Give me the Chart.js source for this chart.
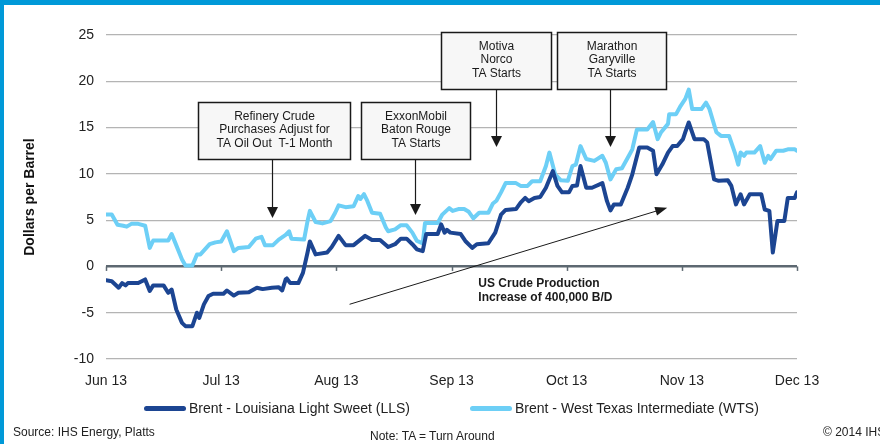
<!DOCTYPE html>
<html>
<head>
<meta charset="utf-8">
<script src="https://cdn.jsdelivr.net/npm/chart.js@4.4.1/dist/chart.umd.min.js"></script>
<style>
  body { margin: 0; background: #fff; font-family: Arial, "Liberation Sans", sans-serif; }
  #wrap { position: relative; width: 880px; height: 444px; overflow: hidden; }
  #chart { position: absolute; left: 0; top: 0; }
  .frame { position: absolute; background: #0099d8; z-index: 2; }
  .foot { position: absolute; font-size: 12px; color: #222; white-space: nowrap; line-height: 14px; }
  #legend { position: absolute; top: 400px; display: flex; align-items: center; font-size: 14px; color: #222; white-space: nowrap; }
  #legend .item { display: flex; align-items: center; }
  #legend .swatch { width: 42px; height: 5px; border-radius: 3px; margin-right: 3px; }
</style>
</head>
<body>
<div id="wrap">
  <canvas id="chart" width="880" height="444"></canvas>
  <div class="frame" style="left:0;top:0;width:880px;height:5px"></div>
  <div class="frame" style="left:0;top:0;width:4px;height:444px"></div>
  <div id="legend"></div>
  <div class="foot" style="left:13px;top:425px">Source: IHS Energy, Platts</div>
  <div class="foot" style="left:370px;top:429px">Note: TA = Turn Around</div>
  <div class="foot" style="left:823px;top:425px">© 2014 IHS</div>
</div>
<script>
// month ticks (x = months since 1 Jun 2013)
const months = ['Jun 13', 'Jul 13', 'Aug 13', 'Sep 13', 'Oct 13', 'Nov 13', 'Dec 13'];

// Brent - LLS
const llsX = [0, .05, .11, .14, .17, .19, .28, .34, .38, .41,
  .50, .54, .57, .61, .66, .69, .75, .79, .81, .85,
  .89, .93, 1.02, 1.05, 1.11, 1.15, 1.24, 1.31, 1.36, 1.44,
  1.50, 1.53, 1.56, 1.57, 1.60, 1.67, 1.71, 1.75, 1.77, 1.82,
  1.92, 1.96, 2.02, 2.08, 2.15, 2.25, 2.31, 2.38, 2.45, 2.51,
  2.56, 2.61, 2.66, 2.70, 2.75, 2.78, 2.88, 2.91, 2.94, 2.96,
  2.99, 3.08, 3.12, 3.18, 3.22, 3.32, 3.38, 3.43, 3.47, 3.56,
  3.60, 3.64, 3.67, 3.72, 3.77, 3.82, 3.88, 3.92, 3.96, 4.02,
  4.05, 4.09, 4.12, 4.17, 4.22, 4.31, 4.35, 4.38, 4.41, 4.47,
  4.53, 4.57, 4.63, 4.70, 4.75, 4.78, 4.83, 4.88, 4.92, 4.96,
  5.01, 5.03, 5.06, 5.11, 5.19, 5.22, 5.28, 5.32, 5.40, 5.43,
  5.47, 5.51, 5.54, 5.59, 5.69, 5.72, 5.76, 5.79, 5.83, 5.89,
  5.92, 5.98, 6.0];
const llsY = [-1.5, -1.6, -2.3, -1.8, -2.05, -1.8, -1.8, -1.4, -2.65, -2.05,
  -2.05, -2.85, -2.5, -4.65, -6.1, -6.45, -6.45, -5.0, -5.55, -4.1,
  -3.2, -2.95, -2.95, -2.6, -3.15, -2.85, -2.8, -2.3, -2.45, -2.3,
  -2.25, -2.6, -1.4, -1.3, -1.8, -1.8, -0.7, 1.5, 2.7, 1.3,
  1.5, 2.1, 3.3, 2.3, 2.3, 3.3, 2.85, 2.85, 2.1, 2.4,
  3.0, 3.0, 2.4, 1.85, 1.65, 3.5, 3.5, 4.55, 3.65, 3.95,
  3.65, 3.5, 2.75, 2.0, 2.4, 2.5, 3.65, 5.6, 6.1, 6.2,
  6.9, 7.4, 7.05, 7.4, 7.5, 8.5, 10.3, 8.7, 8.0, 8.0,
  8.7, 8.75, 10.85, 8.5, 8.5, 9.0, 7.05, 6.05, 6.7, 6.7,
  8.5, 9.95, 12.85, 12.85, 12.5, 9.95, 11.0, 12.3, 13.0, 13.0,
  13.75, 14.5, 15.55, 13.75, 13.75, 13.4, 9.4, 9.25, 9.3, 8.7,
  6.7, 7.8, 6.7, 7.8, 7.8, 6.15, 6.0, 1.5, 4.9, 4.9,
  7.4, 7.4, 8.0];

// Brent - WTS
const wtsX = [0, .05, .10, .15, .18, .22, .28, .34, .38, .41,
  .54, .57, .60, .66, .69, .75, .79, .82, .90, .95,
  1.00, 1.05, 1.11, 1.15, 1.24, 1.30, 1.35, 1.38, 1.45, 1.50,
  1.56, 1.59, 1.61, 1.72, 1.75, 1.77, 1.82, 1.88, 1.95, 1.99,
  2.02, 2.08, 2.15, 2.19, 2.21, 2.24, 2.27, 2.31, 2.38, 2.43,
  2.45, 2.51, 2.56, 2.61, 2.66, 2.70, 2.75, 2.77, 2.88, 2.92,
  2.98, 3.01, 3.06, 3.11, 3.15, 3.19, 3.24, 3.32, 3.36, 3.39,
  3.43, 3.47, 3.56, 3.60, 3.66, 3.70, 3.77, 3.82, 3.85, 3.90,
  3.95, 4.01, 4.05, 4.08, 4.12, 4.17, 4.24, 4.31, 4.34, 4.38,
  4.43, 4.48, 4.54, 4.57, 4.61, 4.70, 4.75, 4.79, 4.82, 4.88,
  4.89, 4.95, 4.99, 5.03, 5.06, 5.09, 5.17, 5.21, 5.24, 5.30,
  5.34, 5.41, 5.46, 5.49, 5.51, 5.54, 5.56, 5.63, 5.68, 5.72,
  5.75, 5.77, 5.82, 5.88, 5.92, 5.98, 6.0];
const wtsY = [5.6, 5.6, 4.5, 4.4, 4.3, 4.6, 4.6, 4.4, 2.0, 2.8,
  2.8, 3.5, 2.6, 0.76, 0.1, 0.1, 1.3, 1.3, 2.4, 2.6,
  2.7, 3.8, 1.65, 2.0, 2.1, 3.0, 3.2, 2.3, 2.3, 2.9,
  3.4, 3.8, 3.0, 2.9, 4.9, 6.0, 4.8, 4.65, 4.9, 5.8,
  6.6, 6.4, 6.5, 7.6, 7.3, 7.8, 7.05, 5.8, 5.7, 4.2,
  3.8, 4.0, 4.45, 4.45, 3.65, 2.75, 2.5, 4.7, 4.7, 5.6,
  6.3, 6.0, 6.2, 6.2, 5.9, 5.2, 5.8, 5.8, 6.8, 7.1,
  8.0, 9.0, 9.0, 8.7, 8.7, 9.2, 9.2, 10.85, 12.3, 9.95,
  9.3, 9.25, 10.85, 11.0, 13.0, 11.6, 11.4, 11.95, 11.2, 9.4,
  10.5, 10.6, 11.95, 12.65, 14.8, 14.8, 15.6, 13.75, 14.5, 15.4,
  16.45, 16.45, 17.35, 18.1, 19.1, 17.0, 17.0, 17.7, 17.0, 14.5,
  14.1, 14.1, 12.3, 11.0, 12.3, 11.95, 12.3, 12.3, 13.0, 11.2,
  11.95, 11.6, 12.5, 12.5, 12.65, 12.65, 12.5];

// callout boxes, in axis units
const callouts = [
  { lines: ['Refinery Crude', 'Purchases Adjust for', 'TA Oil Out  T-1 Month'], x0: 0.80, x1: 2.115, top: 17.76, bot: 11.6, ax: 1.445, tip: 5.23 },
  { lines: ['ExxonMobil', 'Baton Rouge', 'TA Starts'], x0: 2.216, x1: 3.163, top: 17.76, bot: 11.6, ax: 2.687, tip: 5.55 },
  { lines: ['Motiva', 'Norco', 'TA Starts'], x0: 2.91, x1: 3.863, top: 25.32, bot: 19.16, ax: 3.39, tip: 12.9 },
  { lines: ['Marathon', 'Garyville', 'TA Starts'], x0: 3.915, x1: 4.865, top: 25.32, bot: 19.16, ax: 4.377, tip: 12.9 }
];
const prodArrow = { from: [2.115, -4.09], to: [4.873, 6.34], textX: 3.233, textY: [-1.9, -3.4],
  lines: ['US Crude Production', 'Increase of 400,000 B/D'] };

const toPts = (xs, ys) => xs.map((x, i) => ({ x: x, y: ys[i] }));

const zeroAxis = {
  id: 'zeroAxis',
  beforeDatasetsDraw(chart) {
    const { ctx, scales: { x, y } } = chart;
    const y0 = y.getPixelForValue(0);
    ctx.save();
    ctx.strokeStyle = '#5d6871';
    ctx.lineWidth = 1.5;
    months.forEach((m, i) => {
      const px = Math.round(x.getPixelForValue(i)) + 0.5;
      ctx.beginPath();
      ctx.moveTo(px, y0);
      ctx.lineTo(px, y0 + 4.5);
      ctx.stroke();
    });
    ctx.restore();
  }
};

function arrowHead(ctx, x, y, ang, len, half) {
  ctx.beginPath();
  ctx.moveTo(x, y);
  ctx.lineTo(x - len * Math.cos(ang) + half * Math.sin(ang), y - len * Math.sin(ang) - half * Math.cos(ang));
  ctx.lineTo(x - len * Math.cos(ang) - half * Math.sin(ang), y - len * Math.sin(ang) + half * Math.cos(ang));
  ctx.closePath();
  ctx.fill();
}

const notes = {
  id: 'notes',
  afterDatasetsDraw(chart) {
    const { ctx, scales: { x, y } } = chart;
    ctx.save();
    ctx.textAlign = 'center';
    ctx.textBaseline = 'middle';
    ctx.font = '12px Arial, "Liberation Sans", sans-serif';
    callouts.forEach(c => {
      const l = Math.round(x.getPixelForValue(c.x0)) + 0.5, r = Math.round(x.getPixelForValue(c.x1)) + 0.5;
      const t = Math.round(y.getPixelForValue(c.top)) + 0.5, b = Math.round(y.getPixelForValue(c.bot)) + 0.5;
      ctx.fillStyle = '#f7f7f7';
      ctx.fillRect(l, t, r - l, b - t);
      ctx.strokeStyle = '#1a1a1a';
      ctx.lineWidth = 1.5;
      ctx.strokeRect(l, t, r - l, b - t);
      ctx.fillStyle = '#1a1a1a';
      c.lines.forEach((s, i) => ctx.fillText(s, (l + r) / 2, t + 14 + i * 13.5));
      const ax = Math.round(x.getPixelForValue(c.ax)) + 0.5;
      const tip = y.getPixelForValue(c.tip);
      ctx.lineWidth = 1.2;
      ctx.beginPath();
      ctx.moveTo(ax, b);
      ctx.lineTo(ax, tip - 9);
      ctx.stroke();
      arrowHead(ctx, ax, tip, Math.PI / 2, 11, 5.5);
    });
    // production trend arrow
    const x0 = x.getPixelForValue(prodArrow.from[0]), y0 = y.getPixelForValue(prodArrow.from[1]);
    const x1 = x.getPixelForValue(prodArrow.to[0]), y1 = y.getPixelForValue(prodArrow.to[1]);
    const ang = Math.atan2(y1 - y0, x1 - x0);
    ctx.lineWidth = 1;
    ctx.beginPath();
    ctx.moveTo(x0, y0);
    ctx.lineTo(x1 - 10 * Math.cos(ang), y1 - 10 * Math.sin(ang));
    ctx.stroke();
    arrowHead(ctx, x1, y1, ang, 12, 4.5);
    ctx.font = 'bold 12px Arial, "Liberation Sans", sans-serif';
    ctx.textAlign = 'left';
    prodArrow.lines.forEach((s, i) => ctx.fillText(s, x.getPixelForValue(prodArrow.textX), y.getPixelForValue(prodArrow.textY[i])));
    ctx.restore();
  }
};

const chart = new Chart(document.getElementById('chart'), {
  type: 'line',
  data: {
    datasets: [
      { label: 'Brent - Louisiana Light Sweet (LLS)', data: toPts(llsX, llsY), borderColor: '#1c4592', backgroundColor: '#1c4592' },
      { label: 'Brent - West Texas Intermediate (WTS)', data: toPts(wtsX, wtsY), borderColor: '#6dcff6', backgroundColor: '#6dcff6' }
    ]
  },
  options: {
    responsive: false,
    animation: false,
    parsing: false,
    layout: { padding: { left: 0, right: 83, top: 35, bottom: 53 } },
    elements: {
      line: { borderWidth: 4, tension: 0, borderJoinStyle: 'round', borderCapStyle: 'round' },
      point: { radius: 0 }
    },
    plugins: { legend: { display: false }, tooltip: { enabled: false } },
    scales: {
      x: {
        type: 'linear', min: 0, max: 6,
        grid: { display: false },
        border: { display: false },
        ticks: { stepSize: 1, padding: 6, maxRotation: 0, color: '#222',
          font: { size: 14, family: 'Arial, "Liberation Sans", sans-serif' },
          callback: v => months[v] },
        afterFit: s => { s.height = 32; }
      },
      y: {
        min: -10, max: 25,
        grid: {
          drawTicks: false,
          color: c => c.tick.value === 0 ? '#5d6871' : '#b4b4b4',
          lineWidth: c => c.tick.value === 0 ? 2.5 : 1.2
        },
        border: { display: false },
        ticks: { stepSize: 5, padding: 12, color: '#222',
          font: { size: 14, family: 'Arial, "Liberation Sans", sans-serif' } },
        title: { display: true, text: 'Dollars per Barrel', color: '#111', padding: { top: 22, bottom: 0 },
          font: { size: 14, weight: 'bold', family: 'Arial, "Liberation Sans", sans-serif' } },
        afterFit: s => { s.width = 106; }
      }
    }
  },
  plugins: [zeroAxis, notes]
});

// legend under the plot, centred on the chart area
const legend = document.getElementById('legend');
chart.data.datasets.forEach((ds, i) => {
  const item = document.createElement('div');
  item.className = 'item';
  if (i > 0) item.style.marginLeft = '60px';
  item.innerHTML = '<span class="swatch" style="background:' + ds.borderColor + '"></span><span>' + ds.label + '</span>';
  legend.appendChild(item);
});
const area = chart.chartArea;
legend.style.left = Math.round((area.left + area.right) / 2 - legend.offsetWidth / 2) + 'px';
</script>
</body>
</html>
